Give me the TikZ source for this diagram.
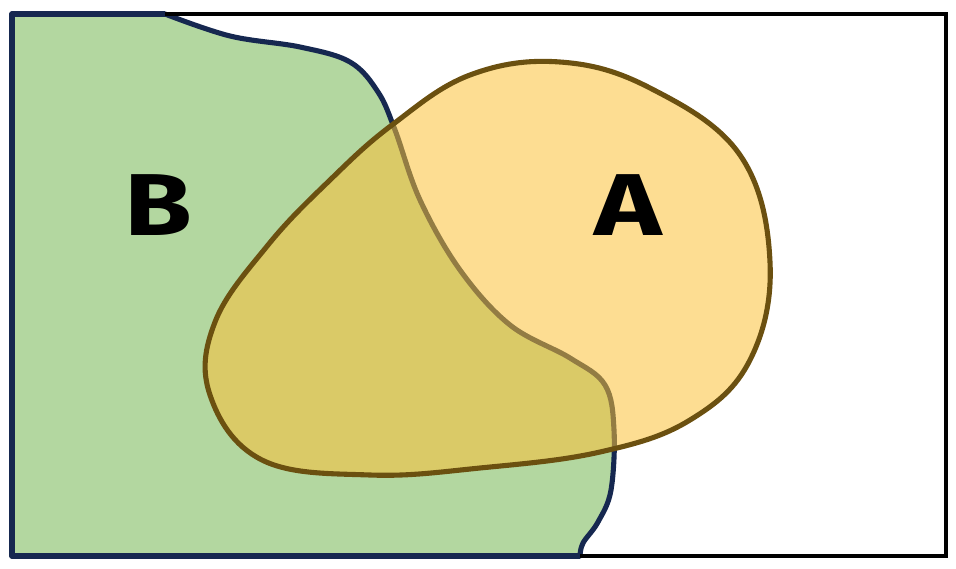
\documentclass[tikz,border=0pt]{standalone}
\usepackage{fontspec}
\setmainfont{Fira Sans}
\definecolor{gfill}{RGB}{179,215,160}
\definecolor{gline}{RGB}{22,40,80}
\definecolor{yfill}{RGB}{251,193,57}
\definecolor{yline}{RGB}{107,80,16}
\tikzset{
  setB/.style={fill=gfill, draw=gline, line width=2.9pt, line join=round},
  setA/.style={fill=yfill, fill opacity=0.55, draw=yline, draw opacity=1, line width=2.9pt},
  frame/.style={draw=black, line width=2.4pt},
  lbl/.style={font=\fontsize{50}{50}\selectfont\bfseries, text=black}
}
\begin{document}
\begin{tikzpicture}[x=0.02cm, y=-0.02cm]
\useasboundingbox (0,0) rectangle (956,568);
\path[setB] (12,14) -- (165,14)
  -- plot[smooth, tension=0.6] coordinates {(165,14) (230,36) (300,47) (350,62) (378,92) (395,130) (420,200) (460,270) (510,325) (570,358) (605,385) (614,430) (611,490) (598,522) (583,543) (580,556)}
  -- (12,556) -- cycle;
\draw[frame] (12,14) rectangle (946,556);
\path[setB, fill=none] (165,14) -- (12,14) -- (12,556) -- (580,556);
\path[setA] plot[smooth cycle, tension=0.65] coordinates {(392,125) (470,75) (560,62) (650,88) (740,155) (770,262) (750,360) (690,420) (600,452) (480,468) (370,475) (262,460) (210,395) (215,322) (268,245) (330,180)};
\node[lbl, xscale=1.25] (B) at (158,205) {B};
\node[lbl, xscale=1.3] (A) at (628,205) {A};
\end{tikzpicture}
\end{document}
